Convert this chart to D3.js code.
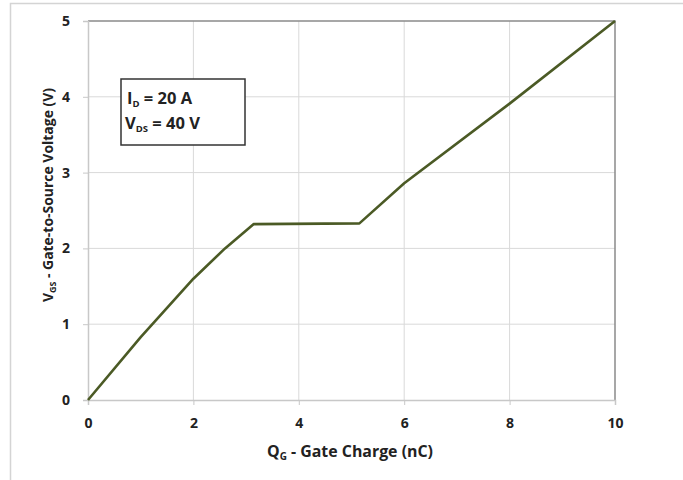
<!DOCTYPE html>
<html>
<head>
<meta charset="utf-8">
<script src="https://cdn.jsdelivr.net/npm/d3@7"></script>
<style>
  html, body { margin: 0; padding: 0; background: #fff; }
  svg { display: block; }
  text { font-family: "Open Sans", "Liberation Sans", sans-serif; font-weight: bold; fill: #222; }
</style>
</head>
<body>
<svg id="chart" width="683" height="480"></svg>
<script>
// Gate charge curve: Q_G (nC) vs V_GS (V)
const chargeNC = [0, 1.0, 2.0, 2.6, 3.14, 5.15, 6.0, 8.0, 10.0];
const gateVolts = [0, 0.83, 1.6, 2.0, 2.32, 2.33, 2.86, 3.91, 5.0];
const xTicks = [0, 2, 4, 6, 8, 10];
const yTicks = [0, 1, 2, 3, 4, 5];

const svg = d3.select("#chart");
const plotL = 88, plotR = 615, plotT = 21, plotB = 400;

const x = d3.scaleLinear().domain([0, 10]).range([plotL, plotR]);
const y = d3.scaleLinear().domain([0, 5]).range([plotB, plotT]);

// outer chart frame
svg.append("rect")
  .attr("x", 10.5).attr("y", 3.5).attr("width", 700).attr("height", 500)
  .attr("fill", "none").attr("stroke", "#d4d4d4").attr("stroke-width", 1.5);

// gridlines
svg.append("g").selectAll("line").data(xTicks.filter(d => d > 0 && d < 10)).join("line")
  .attr("x1", d => x(d)).attr("x2", d => x(d)).attr("y1", plotT).attr("y2", plotB)
  .attr("stroke", "#d9d9d9").attr("stroke-width", 1);
svg.append("g").selectAll("line").data(yTicks.filter(d => d > 0 && d < 5)).join("line")
  .attr("x1", plotL).attr("x2", plotR).attr("y1", d => y(d)).attr("y2", d => y(d))
  .attr("stroke", "#d9d9d9").attr("stroke-width", 1);

// plot area border (top and right)
svg.append("path")
  .attr("d", `M${plotL},${plotT}H${plotR}V${plotB}`)
  .attr("fill", "none").attr("stroke", "#8a8a8a").attr("stroke-width", 1.5);

// axes
const xAxis = d3.axisBottom(x).tickValues(xTicks).tickSize(5).tickPadding(13).tickFormat(d3.format("d"));
const yAxis = d3.axisLeft(y).tickValues(yTicks).tickSize(5).tickPadding(13).tickFormat(d3.format("d"));

const gx = svg.append("g").attr("transform", `translate(0,${plotB})`).call(xAxis);
const gy = svg.append("g").attr("transform", `translate(${plotL},0)`).call(yAxis);
[gx, gy].forEach(g => {
  g.select(".domain").attr("stroke", "#c8c8c8").attr("stroke-width", 1.5);
  g.selectAll(".tick line").attr("stroke", "#c8c8c8");
  g.selectAll(".tick text").style("font-size", "14px").attr("fill", "#222");
});

// curve
const line = d3.line().x(d => x(d[0])).y(d => y(d[1]));
svg.append("path")
  .datum(chargeNC.map((q, i) => [q, gateVolts[i]]))
  .attr("d", line)
  .attr("fill", "none")
  .attr("stroke", "#4b5a25")
  .attr("stroke-width", 2.6)
  .attr("stroke-linejoin", "round");

// condition box
svg.append("rect")
  .attr("x", 121).attr("y", 79).attr("width", 124).attr("height", 66)
  .attr("fill", "#fff").attr("stroke", "#333").attr("stroke-width", 1.5);
const t1 = svg.append("text").attr("x", 127).attr("y", 104).style("font-size", "16.5px");
t1.append("tspan").text("I");
t1.append("tspan").attr("dy", 3).style("font-size", "9.5px").text("D");
t1.append("tspan").attr("dy", -3).text(" = 20 A");
const t2 = svg.append("text").attr("x", 125).attr("y", 129).style("font-size", "16.5px");
t2.append("tspan").text("V");
t2.append("tspan").attr("dy", 3).style("font-size", "9.5px").text("DS");
t2.append("tspan").attr("dy", -3).text(" = 40 V");

// x-axis title
const xt = svg.append("text").attr("x", 267).attr("y", 457)
  .attr("textLength", 166).attr("lengthAdjust", "spacingAndGlyphs")
  .style("font-size", "16px");
xt.append("tspan").text("Q");
xt.append("tspan").attr("dy", 3).style("font-size", "10px").text("G");
xt.append("tspan").attr("dy", -3).text(" - Gate Charge (nC)");

// y-axis title
const yt = svg.append("text")
  .attr("transform", "translate(53,302) rotate(-90)")
  .attr("textLength", 214).attr("lengthAdjust", "spacingAndGlyphs")
  .style("font-size", "15px");
yt.append("tspan").text("V");
yt.append("tspan").attr("dy", 3).style("font-size", "9.5px").text("GS");
yt.append("tspan").attr("dy", -3).text(" - Gate-to-Source Voltage (V)");
</script>
</body>
</html>
